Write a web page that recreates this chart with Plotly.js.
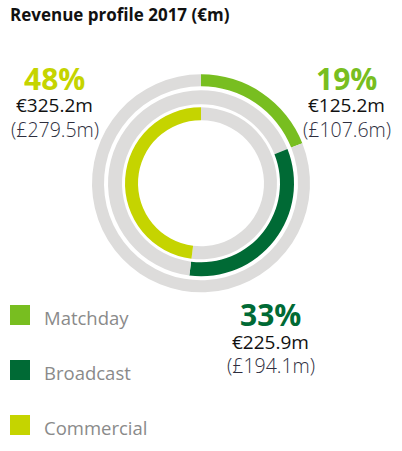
<!DOCTYPE html>
<html>
<head>
<meta charset="utf-8">
<script src="https://cdn.plot.ly/plotly-3.0.1.min.js"></script>
<style>
html,body{margin:0;padding:0;background:#fff;}
#chart{width:402px;height:451px;}
</style>
</head>
<body>
<div id="chart"></div>
<script>
// ---- data ----
var categories = ["Matchday", "Broadcast", "Commercial"];
var percents = [19, 33, 48];
var euroLabels = ["€125.2m", "€225.9m", "€325.2m"];
var poundLabels = ["(£107.6m)", "(£194.1m)", "(£279.5m)"];

// ---- styles ----
var colors = ["#78be20", "#006a35", "#c5d400"];
var gray = "#dddcdb";
var W = 402, H = 451;
var cx = 201, cy = 183.3;
var rings = [ {r: 109, inner: 97}, {r: 93, inner: 79}, {r: 76, inner: 63} ];
// label group centres (px): centre of the percent line
var labelPos = [ {x: 346.5, y: 78}, {x: 270.5, y: 314}, {x: 55, y: 78} ];
var legendTop = [305, 360, 415];

function px(x){ return x / W; }
function py(y){ return 1 - y / H; }

var traces = [];
var cum = 0;
for (var i = 0; i < categories.length; i++) {
  var before = cum, after = 100 - cum - percents[i];
  var rg = rings[i];
  traces.push({
    type: "pie",
    values: [before, percents[i], after],
    labels: ["before", categories[i], "after"],
    marker: {colors: [gray, colors[i], gray], line: {width: 0}},
    sort: false,
    direction: "clockwise",
    rotation: 0,
    hole: rg.inner / rg.r,
    textinfo: "none",
    hoverinfo: "skip",
    showlegend: false,
    domain: {
      x: [px(cx - rg.r), px(cx + rg.r)],
      y: [py(cy + rg.r), py(cy - rg.r)]
    }
  });
  cum += percents[i];
}

var annotations = [];
var shapes = [];
for (var i = 0; i < categories.length; i++) {
  var lp = labelPos[i];
  annotations.push({
    xref: "paper", yref: "paper", x: px(lp.x), y: py(lp.y),
    xanchor: "center", yanchor: "middle", showarrow: false, height: 28,
    text: "<b>" + percents[i] + "%</b>",
    font: {family: "Open Sans", size: 30, color: colors[i]}
  });
  annotations.push({
    xref: "paper", yref: "paper", x: px(lp.x), y: py(lp.y + 27.5),
    xanchor: "center", yanchor: "middle", showarrow: false, height: 20,
    text: euroLabels[i],
    font: {family: "Open Sans", size: 19, weight: 500, color: "#111111"}
  });
  annotations.push({
    xref: "paper", yref: "paper", x: px(lp.x), y: py(lp.y + 50.5),
    xanchor: "center", yanchor: "middle", showarrow: false, height: 22,
    text: poundLabels[i],
    font: {family: "Open Sans", size: 19.5, weight: 300, color: "#2e2e3e"}
  });
  // legend
  shapes.push({
    type: "rect", xref: "paper", yref: "paper",
    x0: px(10), x1: px(30), y0: py(legendTop[i] + 20), y1: py(legendTop[i]),
    fillcolor: colors[i], line: {width: 0}
  });
  annotations.push({
    xref: "paper", yref: "paper", x: px(42), y: py(legendTop[i] + 12),
    xanchor: "left", yanchor: "middle", showarrow: false,
    text: categories[i],
    font: {family: "Open Sans", size: 18.5, color: "#8a8a8a"}
  });
}

var layout = {
  width: W, height: H,
  margin: {l: 0, r: 0, t: 0, b: 0},
  paper_bgcolor: "#ffffff",
  title: {
    text: "<b>Revenue profile 2017 (€m)</b>",
    x: px(10), xanchor: "left", xref: "paper",
    y: py(15), yanchor: "middle", yref: "paper",
    font: {family: "Open Sans", size: 17, color: "#111111"}
  },
  annotations: annotations,
  shapes: shapes
};

Plotly.newPlot("chart", traces, layout, {displayModeBar: false, staticPlot: true});
</script>
</body>
</html>
